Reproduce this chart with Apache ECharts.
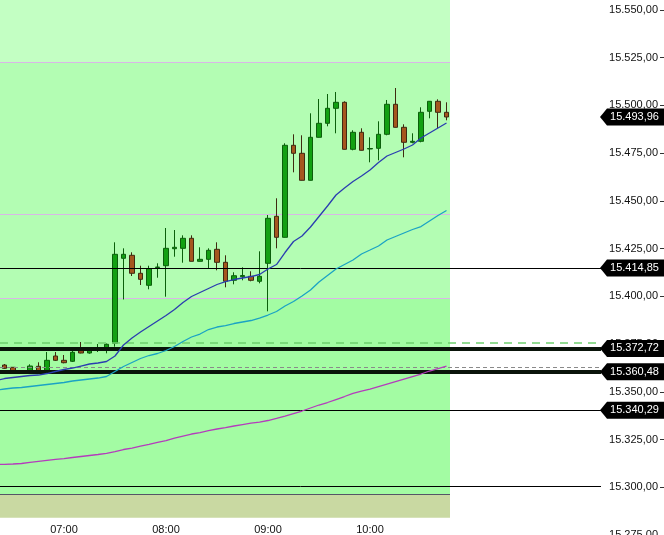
<!DOCTYPE html>
<html><head><meta charset="utf-8">
<script src="https://cdn.jsdelivr.net/npm/echarts@6/dist/echarts.min.js"></script>
<style>html,body{margin:0;padding:0;background:#fff;overflow:hidden}#c{width:664px;height:535px}</style>
</head><body><div id="c"></div>
<script>
// ---- data ----
const maTimes = ['06:20','06:25','06:30','06:35','06:40','06:45','06:50','06:55','07:00','07:05','07:10','07:15','07:20','07:25','07:30','07:35','07:40','07:45','07:50','07:55','08:00','08:05','08:10','08:15','08:20','08:25','08:30','08:35','08:40','08:45','08:50','08:55','09:00','09:05','09:10','09:15','09:20','09:25','09:30','09:35','09:40','09:45','09:50','09:55','10:00','10:05','10:10','10:15','10:20','10:25','10:30','10:35','10:40','10:45'];
const candleTimes = maTimes.slice(1);
const openP = [15364.04,15362.84,15360.27,15361.06,15363.36,15361.27,15368.76,15366.50,15365.98,15371.53,15370.33,15371.90,15372.27,15375.41,15419.94,15421.51,15412.08,15405.79,15415.12,15416.06,15424.96,15425.17,15430.41,15418.36,15419.41,15424.65,15417.84,15408.41,15410.30,15410.51,15407.89,15417.32,15441.94,15430.94,15479.13,15474.94,15460.79,15483.32,15490.65,15498.51,15501.65,15477.03,15485.94,15477.19,15477.56,15484.89,15500.61,15488.56,15480.70,15481.22,15496.94,15502.18,15496.41];
const closeP = [15362.31,15361.06,15360.48,15363.52,15361.06,15366.50,15366.50,15365.25,15370.70,15370.33,15372.27,15372.16,15374.89,15422.03,15422.03,15412.08,15408.93,15414.49,15415.38,15425.17,15425.70,15430.41,15418.36,15419.41,15424.13,15417.84,15407.89,15410.82,15410.93,15408.41,15410.51,15440.89,15430.94,15479.13,15474.94,15460.79,15483.32,15490.65,15498.51,15501.65,15477.03,15485.94,15476.51,15477.45,15484.89,15500.61,15488.56,15480.70,15481.22,15496.41,15502.18,15496.41,15493.96];
const lowP = [15361.95,15360.90,15359.59,15360.90,15360.64,15360.90,15366.14,15364.93,15365.61,15370.17,15369.96,15370.85,15370.17,15373.63,15398.35,15410.66,15405.95,15403.70,15409.77,15399.82,15420.77,15417.63,15418.36,15418.26,15414.70,15413.65,15404.74,15406.32,15408.41,15407.89,15406.84,15392.17,15425.17,15430.83,15464.98,15460.69,15460.69,15483.21,15489.08,15485.41,15476.93,15476.51,15476.40,15470.22,15471.27,15484.37,15488.45,15472.84,15480.18,15480.70,15493.27,15488.03,15492.22];
const highP = [15364.57,15362.99,15361.42,15364.41,15365.46,15370.85,15370.85,15369.28,15371.38,15376.09,15372.79,15375.04,15375.30,15428.32,15425.17,15423.08,15416.06,15416.06,15417.32,15435.81,15434.76,15431.98,15431.98,15425.70,15425.17,15428.32,15421.51,15412.60,15415.22,15413.13,15423.60,15442.62,15451.37,15480.18,15484.89,15484.37,15495.89,15503.38,15506.00,15507.05,15502.18,15486.99,15488.03,15483.32,15491.70,15502.86,15509.14,15490.13,15485.41,15499.03,15502.33,15503.22,15501.65];
const maFast = [15355.92,15356.97,15357.49,15358.02,15358.54,15358.80,15359.59,15360.64,15361.69,15362.47,15363.52,15364.57,15365.09,15365.88,15368.76,15374.52,15378.19,15381.33,15384.21,15387.09,15389.97,15393.12,15396.78,15399.92,15402.02,15404.12,15406.21,15407.78,15408.83,15409.62,15410.40,15411.45,15414.33,15416.69,15422.97,15428.74,15431.62,15436.33,15441.83,15447.33,15453.09,15456.76,15460.17,15463.05,15466.19,15470.12,15473.52,15475.36,15477.19,15479.29,15482.95,15485.57,15488.19,15490.81];
const maMid = [15350.95,15351.47,15351.99,15352.26,15352.78,15353.30,15353.83,15354.35,15354.88,15355.66,15356.19,15356.71,15357.23,15358.02,15360.64,15363.26,15365.35,15367.45,15369.02,15370.07,15371.64,15373.73,15376.35,15378.71,15380.28,15382.64,15383.95,15384.73,15385.78,15386.57,15387.35,15388.66,15390.23,15392.07,15394.95,15397.31,15400.19,15403.33,15407.52,15410.93,15414.33,15416.69,15419.04,15422.19,15424.28,15426.38,15429.52,15431.35,15433.19,15435.02,15436.59,15439.47,15442.36,15444.97];
const maSlow = [15311.92,15312.03,15312.18,15312.45,15313.07,15313.60,15314.12,15314.65,15315.06,15315.59,15316.11,15316.64,15317.16,15317.79,15318.73,15319.78,15320.56,15321.61,15322.50,15323.55,15324.49,15325.80,15326.85,15327.90,15328.68,15329.73,15330.52,15331.30,15332.09,15332.87,15333.56,15334.18,15334.97,15336.12,15337.33,15338.64,15339.95,15341.52,15343.09,15344.40,15345.97,15347.54,15349.22,15350.42,15351.47,15352.78,15354.09,15355.40,15356.71,15358.02,15359.33,15360.90,15362.21,15363.52];
const xLabelTimes = ['07:00','08:00','09:00','10:00'];
const tagLevels = [15493.96, 15414.85, 15372.72, 15360.48, 15340.29];
const thinLevels = [15414.85, 15340.29, 15300.6];
const thickLevels = [15372.72, 15360.48];
const greenDashLevel = 15375.93;
const grayDashLevel = 15362.84;
const purpleLevels = [15522.6, 15443.1, 15399.0];
const zoneBounds = [15555.24, 15522.6, 15399.0, 15296.3, 15284.0];
const zoneColors = ['#c3ffc3', '#b3fdb3', '#a3fca3', '#c9d9a2'];

// ---- layout constants ----
const X_MIN = 382.35, X_MAX = 772.94, PLOT_END = 647.06, LINE_END = 735.88;
const Y_MIN = 15275, Y_MAX = 15555.24;
const FONT = '"Liberation Sans", Arial, sans-serif';

function toMin(s){ const p = s.split(':'); return (+p[0])*60 + (+p[1]); }
function fmtTime(v){ const h = Math.floor(v/60), m = Math.round(v%60); return String(h).padStart(2,'0')+':'+String(m).padStart(2,'0'); }
function fmt(v){ const s = Number(v).toFixed(2); let [i,d] = s.split('.'); i = i.replace(/\B(?=(\d{3})+(?!\d))/g,'.'); return i+','+d; }

const candleData = candleTimes.map((t,i)=>[toMin(t), openP[i], closeP[i], lowP[i], highP[i]]);
const lineData = arr => maTimes.map((t,i)=>[toMin(t), arr[i]]);

const zones = [];
for (let k=0;k<zoneColors.length;k++){
  zones.push([{xAxis:X_MIN, yAxis:zoneBounds[k], itemStyle:{color:zoneColors[k]}}, {xAxis:PLOT_END, yAxis:zoneBounds[k+1]}]);
}
const seg = (v, x1, x2, style) => [{coord:[x1, v], lineStyle:style}, {coord:[x2, v]}];

const purpleLines = purpleLevels.map(v => seg(v, X_MIN, PLOT_END, {color:'#d9b7e6', width:1, type:'solid'}));
purpleLines.push(seg(zoneBounds[3], X_MIN, PLOT_END, {color:'#555566', width:1, type:'solid'}));

const levelLines = [];
thinLevels.forEach(v => levelLines.push(seg(v, X_MIN, LINE_END, {color:'#000', width:1, type:'solid'})));
thickLevels.forEach(v => levelLines.push(seg(v, X_MIN, LINE_END, {color:'#0a140a', width:4, type:'solid'})));
levelLines.push(seg(greenDashLevel, X_MIN, LINE_END, {color:'#6fcf6f', width:1.5, type:[8,6]}));
levelLines.push(seg(grayDashLevel, X_MIN, LINE_END, {color:'#8a8a8a', width:1, type:[4,3]}));

const tags = tagLevels.map(v => ({coord:[X_MAX, v], value:v}));

const chart = echarts.init(document.getElementById('c'), null, {renderer:'canvas', width:664, height:535});
chart.setOption({
  animation:false,
  backgroundColor:'#ffffff',
  grid:{left:0, right:0, top:0, bottom:0, containLabel:false, outerBoundsMode:'none'},
  xAxis:{
    type:'value', min:X_MIN, max:X_MAX,
    axisLine:{show:false}, axisTick:{show:false}, splitLine:{show:false},
    axisLabel:{inside:true, margin:0, customValues:xLabelTimes.map(toMin), formatter:fmtTime, color:'#111', fontSize:11, fontFamily:FONT}
  },
  yAxis:{
    type:'value', position:'right', min:Y_MIN, max:Y_MAX, interval:25,
    axisLine:{show:false}, splitLine:{show:false},
    axisTick:{show:true, inside:true, length:4, lineStyle:{color:'#333'}},
    axisLabel:{inside:true, margin:6, showMaxLabel:false, formatter:fmt, color:'#111', fontSize:11, fontFamily:FONT}
  },
  series:[
    {
      type:'candlestick', name:'price', z:2,
      data:candleData, encode:{x:0, y:[1,2,3,4]},
      barWidth:5,
      itemStyle:{color:'#12a012', color0:'#a5561e', borderColor:'#0b5f0b', borderColor0:'#3f2a10', borderWidth:1},
      markArea:{silent:true, z:0, data:zones},
      markLine:{silent:true, z:1, symbol:'none', label:{show:false}, data:purpleLines}
    },
    {
      type:'line', name:'levels', z:3, data:[], silent:true,
      markLine:{silent:true, z:3, symbol:'none', label:{show:false}, data:levelLines},
      markPoint:{
        silent:true, z:10,
        symbol:'path://M0,8.5 L7,0 L64,0 L64,17 L7,17 Z', symbolSize:[64,17], symbolOffset:[-32,0],
        itemStyle:{color:'#000'},
        label:{show:true, position:'inside', offset:[2.5,0], color:'#fff', fontSize:11, fontFamily:FONT, formatter:p=>fmt(p.value)},
        data:tags
      }
    },
    {type:'line', name:'fast', z:4, data:lineData(maFast), showSymbol:false, symbol:'none', lineStyle:{color:'#2a3db0', width:1.3}},
    {type:'line', name:'mid', z:4, data:lineData(maMid), showSymbol:false, symbol:'none', lineStyle:{color:'#1ba3c4', width:1.3}},
    {type:'line', name:'slow', z:4, data:lineData(maSlow), showSymbol:false, symbol:'none', lineStyle:{color:'#b43cbc', width:1.3}}
  ]
});
</script></body></html>
